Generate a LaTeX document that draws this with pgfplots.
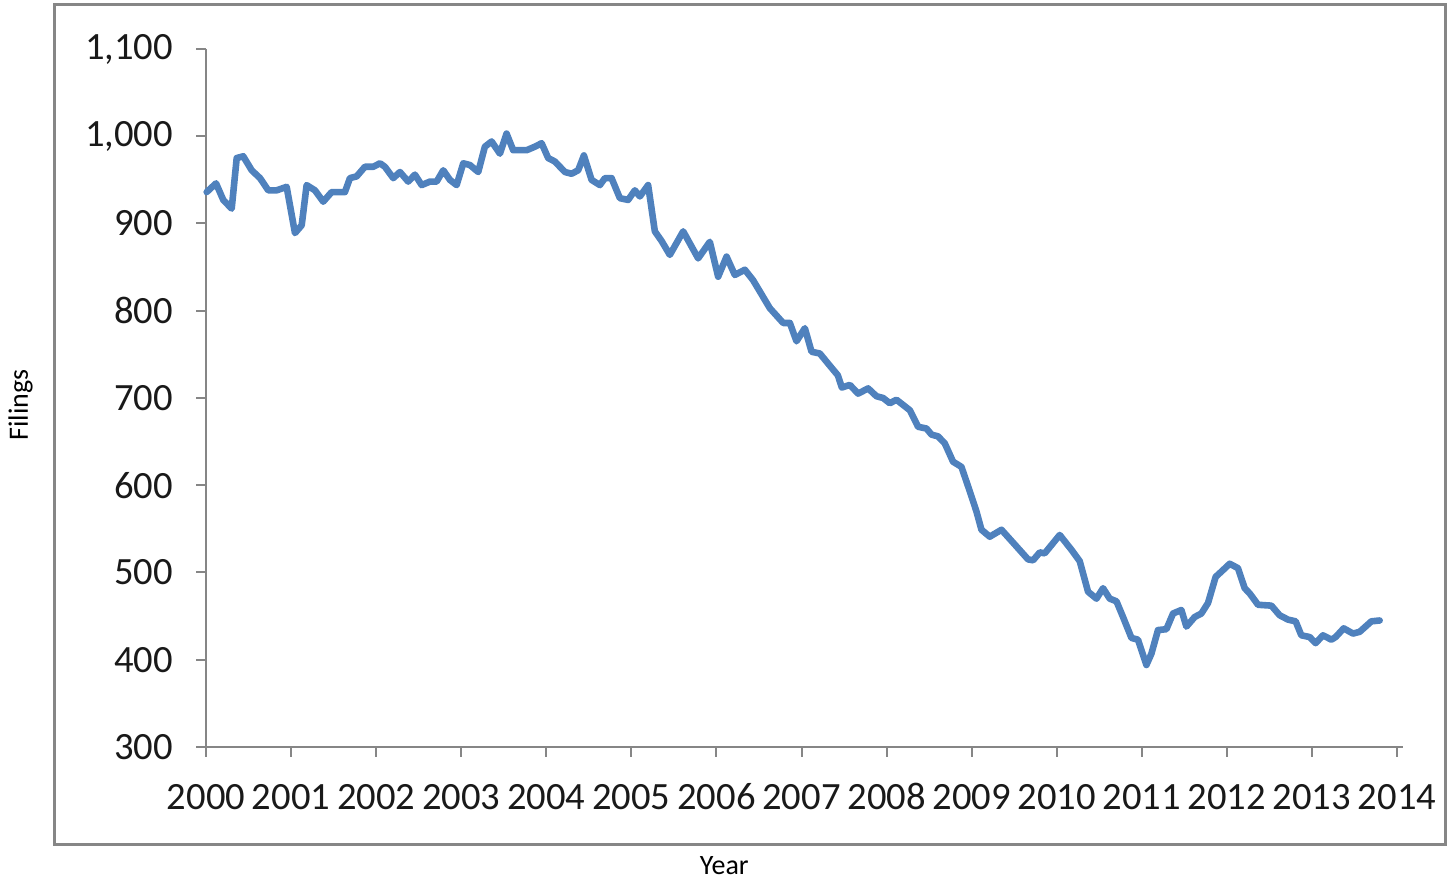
\documentclass[border=0pt]{standalone}
\usepackage{pgfplots}
\pgfplotsset{compat=1.18}
\usepackage{fontspec}
\setmainfont{Carlito}
\definecolor{linec}{RGB}{79,129,189}
\definecolor{axc}{RGB}{134,134,134}
\begin{document}
\begin{tikzpicture}[x=1pt,y=1pt]
\path[use as bounding box] (-103,-67) rectangle (623,373.5);
\begin{axis}[
  at={(0,0)}, anchor=south west,
  scale only axis,
  width=598.5pt, height=349pt,
  xmin=2000, xmax=2014.07,
  ymin=300, ymax=1100,
  axis lines*=left,
  axis line style={axc, line width=1pt},
  every tick/.style={axc, line width=1pt},
  tick align=outside,
  major tick length=5pt,
  xtick={2000,2001,...,2014},
  ytick={300,400,...,1100},
  tick label style={font=\fontsize{19.3}{21}\selectfont, text=black!90},
  /pgf/number format/assume math mode=true,
  xticklabel style={/pgf/number format/1000 sep={}, text height=1.4ex, text depth=0pt, yshift=-16pt},
  yticklabel style={/pgf/number format/1000 sep={,}, xshift=-8pt},
  xlabel={Year},
  ylabel={Filings},
  label style={font=\fontsize{14}{16}\selectfont},
  xlabel style={at={(axis description cs:0.433,-0.170)}, anchor=center},
  ylabel style={at={(axis description cs:-0.155,0.49)}, anchor=center, rotate=0},
  clip=false,
]
\addplot[linec, line width=3.3pt, line join=round, line cap=round] coordinates {
(2000.008,936) (2000.118,946) (2000.203,927) (2000.302,917) (2000.361,975)
(2000.438,977) (2000.537,961) (2000.635,952) (2000.732,938) (2000.831,938)
(2000.948,942) (2001.046,889) (2001.125,898) (2001.183,944) (2001.281,938)
(2001.378,925) (2001.477,936) (2001.633,936) (2001.692,952) (2001.771,954)
(2001.868,965) (2001.966,965) (2002.045,969) (2002.103,965) (2002.201,952)
(2002.280,959) (2002.377,948) (2002.456,956) (2002.535,944) (2002.632,948)
(2002.711,948) (2002.789,961) (2002.867,950) (2002.946,944) (2003.024,969)
(2003.102,967) (2003.200,959) (2003.278,988) (2003.357,994) (2003.455,980)
(2003.533,1003) (2003.611,984) (2003.769,984) (2003.866,988) (2003.945,992)
(2004.022,975) (2004.101,971) (2004.219,959) (2004.297,957) (2004.375,961)
(2004.442,978) (2004.532,950) (2004.630,944) (2004.689,952) (2004.767,952)
(2004.865,929) (2004.962,927) (2005.041,938) (2005.100,931) (2005.197,944)
(2005.276,891) (2005.355,880) (2005.452,864) (2005.609,891) (2005.785,860)
(2005.922,879) (2006.020,839) (2006.119,862) (2006.216,841) (2006.334,847)
(2006.431,835) (2006.627,803) (2006.784,786) (2006.863,786) (2006.941,765)
(2007.039,780) (2007.118,753) (2007.215,751) (2007.333,737) (2007.427,726)
(2007.474,712) (2007.568,715) (2007.665,705) (2007.783,711) (2007.881,702)
(2007.959,700) (2008.038,694) (2008.116,698) (2008.273,686) (2008.370,667)
(2008.469,665) (2008.528,658) (2008.605,656) (2008.684,648) (2008.781,627)
(2008.880,621) (2008.978,593) (2009.056,570) (2009.115,549) (2009.213,541)
(2009.350,549) (2009.507,532) (2009.663,515) (2009.722,514) (2009.800,523)
(2009.859,522) (2010.035,543) (2010.173,526) (2010.270,513) (2010.368,478)
(2010.467,470) (2010.544,482) (2010.623,470) (2010.702,467) (2010.779,449)
(2010.878,425) (2010.955,423) (2011.054,394) (2011.113,407) (2011.190,434)
(2011.289,435) (2011.367,453) (2011.465,457) (2011.524,438) (2011.622,449)
(2011.700,453) (2011.778,465) (2011.868,495) (2011.935,501) (2012.033,510)
(2012.130,505) (2012.209,482) (2012.268,476) (2012.366,463) (2012.523,462)
(2012.620,451) (2012.718,446) (2012.808,444) (2012.875,428) (2012.973,426)
(2013.043,419) (2013.129,428) (2013.228,423) (2013.278,426) (2013.373,436)
(2013.482,430) (2013.561,432) (2013.698,444) (2013.796,445)
};
\end{axis}
\draw[axc, line width=1.5pt] (-75.5,-49) rectangle (619.5,371);
\end{tikzpicture}
\end{document}
